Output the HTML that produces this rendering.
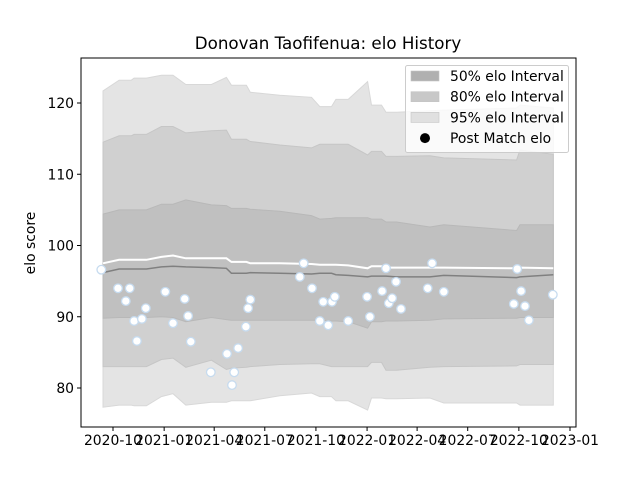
<!DOCTYPE html>
<html><head><meta charset="utf-8"><style>
body{margin:0;background:#fff}
text{font-family:"DejaVu Sans","Liberation Sans",sans-serif}
</style></head><body>
<svg id="chart" width="640" height="480" xmlns="http://www.w3.org/2000/svg">
<rect width="640" height="480" fill="#fff"/>
<text x="328" y="49" font-size="16.7" text-anchor="middle">Donovan Taofifenua: elo History</text>
<g id="plot"></g>
<text transform="translate(35,243) rotate(-90)" font-size="13.9" text-anchor="middle">elo score</text>
</svg>
<script>
const bandDates=["2020-09-13","2020-10-12","2020-11-03","2020-11-08","2020-11-30","2020-12-27","2021-01-17","2021-02-09","2021-03-27","2021-04-23","2021-05-02","2021-05-29","2021-06-05","2021-07-28","2021-09-23","2021-10-08","2021-10-29","2021-11-06","2021-11-28","2022-01-02","2022-01-09","2022-01-27","2022-02-04","2022-02-23","2022-04-24","2022-05-19","2022-09-27","2022-10-03","2022-12-02"];
const hi95=[121.7,123.2,123.2,123.5,123.5,123.9,123.9,122.6,122.6,123.6,122.5,122.5,121.5,121.1,120.8,119.5,119.5,120.5,120.5,123.0,119.7,119.7,118.7,118.7,118.9,119.0,119.3,119.7,119.3];
const hi80=[114.5,115.4,115.4,115.6,115.6,116.7,116.7,115.8,116.1,116.2,114.9,114.9,114.6,114.1,113.7,114.2,114.2,114.2,114.2,112.7,113.2,113.2,112.5,112.5,112.6,112.3,112.0,113.4,112.8];
const hi50=[104.4,105.0,105.0,105.0,105.0,105.8,105.8,106.4,105.7,105.6,105.2,105.2,105.1,104.8,104.2,103.7,103.8,103.9,103.9,103.9,103.7,103.7,103.3,103.3,102.6,102.9,102.1,102.9,102.9];
const lo50=[89.8,89.9,89.9,89.9,89.9,90.0,89.9,89.3,89.9,89.6,89.5,89.5,89.5,89.5,89.5,89.5,89.4,89.4,89.3,88.4,89.3,89.3,89.4,89.4,89.5,89.7,89.8,89.9,89.9];
const lo80=[83.0,83.0,83.0,83.0,83.0,84.0,84.2,82.9,83.9,82.6,82.8,82.9,83.0,83.3,83.4,83.4,83.0,83.0,83.0,83.0,83.6,83.6,82.5,82.5,82.9,83.0,83.1,83.3,83.3];
const lo95=[77.3,77.6,77.6,77.5,77.5,78.8,79.2,77.6,78.0,78.0,78.2,78.2,78.2,78.9,79.3,78.8,78.8,78.2,78.2,76.9,78.6,78.6,78.5,78.5,78.6,77.9,77.9,77.6,77.6];
const meanLine=[97.5,98.0,98.0,98.0,98.0,98.4,98.6,98.2,98.2,98.2,97.7,97.7,97.5,97.5,97.4,97.3,97.3,97.3,97.2,96.8,97.1,97.1,96.9,96.9,96.9,96.9,96.8,96.9,96.8];
const medianLine=[96.2,96.7,96.7,96.7,96.7,97.0,97.1,97.0,96.9,96.8,96.1,96.1,96.2,96.1,96.0,96.1,96.1,95.9,95.8,95.6,95.7,95.7,95.7,95.6,95.6,95.8,95.5,95.6,95.9];
const matchDates=["2020-09-10","2020-10-10","2020-10-31","2020-10-24","2020-11-08","2020-11-22","2020-11-29","2020-11-13","2021-01-03","2021-01-17","2021-02-07","2021-02-13","2021-02-18","2021-03-26","2021-04-24","2021-05-03","2021-05-07","2021-05-14","2021-05-28","2021-06-01","2021-06-05","2021-09-02","2021-09-09","2021-09-24","2021-10-08","2021-10-14","2021-10-23","2021-10-30","2021-11-04","2021-11-28","2022-01-01","2022-01-06","2022-01-28","2022-02-04","2022-02-09","2022-02-15","2022-02-22","2022-03-03","2022-04-20","2022-04-28","2022-05-19","2022-09-22","2022-09-28","2022-10-05","2022-10-12","2022-10-19","2022-12-01"];
const matchElo=[96.6,94.0,94.0,92.2,89.4,89.7,91.2,86.6,93.5,89.1,92.5,90.1,86.5,82.2,84.8,80.4,82.2,85.6,88.6,91.2,92.4,95.6,97.5,94.0,89.4,92.1,88.8,92.1,92.8,89.4,92.8,90.0,93.6,96.8,91.9,92.6,94.9,91.1,94.0,97.5,93.5,91.8,96.7,93.6,91.5,89.5,93.1];
const xTicks=["2020-10","2021-01","2021-04","2021-07","2021-10","2022-01","2022-04","2022-07","2022-10","2023-01"];
const yTicks=[80,90,100,110,120];

const NS="http://www.w3.org/2000/svg";
const L=81,R=576,T=58,B=427;
const d0=Date.UTC(2020,9,1), d1=Date.UTC(2023,0,1), x0=113, x1=570;
function parse(s){const p=s.split("-").map(Number);return Date.UTC(p[0],p[1]-1,p[2]||1);}
function xs(s){return x0+(parse(s)-d0)/(d1-d0)*(x1-x0);}
function ys(v){return 388-(v-80)*(285/40);}
const g=document.getElementById("plot");
function mk(tag,attrs,parent){const e=document.createElementNS(NS,tag);for(const k in attrs)e.setAttribute(k,attrs[k]);(parent||g).appendChild(e);return e;}
function band(lo,hi,fill,stroke,name){
  let d="M"+bandDates.map((t,i)=>xs(t).toFixed(1)+","+ys(hi[i]).toFixed(1)).join("L");
  for(let i=bandDates.length-1;i>=0;i--)d+="L"+xs(bandDates[i]).toFixed(1)+","+ys(lo[i]).toFixed(1);
  const p=mk("path",{d:d+"Z",fill:fill,stroke:stroke,"stroke-width":1});
  
  
}
band(lo95,hi95,"#e4e4e4","#d8d8d8","band-95");
band(lo80,hi80,"#d0d0d0","#c6c6c6","band-80");
band(lo50,hi50,"#c0c0c0","#b8b8b8","band-50");
function line(vals,color,w,name){
  const p=mk("polyline",{points:bandDates.map((t,i)=>xs(t).toFixed(1)+","+ys(vals[i]).toFixed(1)).join(" "),fill:"none",stroke:color,"stroke-width":w});
  
  
}
line(medianLine,"#808080",1.5,"median-elo-line");
line(meanLine,"#ffffff",2,"mean-elo-line");
matchDates.forEach((t,i)=>{
  const c=mk("circle",{cx:xs(t).toFixed(1),cy:ys(matchElo[i]).toFixed(1),r:4.3,fill:"#fff",stroke:"#c6dbef","stroke-width":1.3});
  
  
});
const frame=mk("rect",{x:L,y:T,width:R-L,height:B-T,fill:"none",stroke:"#000","stroke-width":1});


xTicks.forEach(t=>{
  const x=xs(t);
  mk("line",{x1:x,x2:x,y1:B,y2:B+4,stroke:"#000"});
  const tx=mk("text",{x:x,y:B+18,"font-size":13.9,"text-anchor":"middle"});
  tx.textContent=t;
  
  
});
yTicks.forEach(v=>{
  const y=ys(v);
  mk("line",{x1:L-4,x2:L,y1:y,y2:y,stroke:"#000"});
  const tx=mk("text",{x:L-7,y:y+5,"font-size":13.9,"text-anchor":"end"});
  tx.textContent=v;
  
  
});
const lg=mk("g",{});


mk("rect",{x:405.5,y:65.5,width:163,height:87,rx:2,fill:"#fff","fill-opacity":0.8,stroke:"#ccc"},lg);
const entries=[["50% elo Interval","#b0b0b0"],["80% elo Interval","#c8c8c8"],["95% elo Interval","#e0e0e0"],["Post Match elo",null]];
entries.forEach((e,i)=>{
  const y=76+i*20.7;
  if(e[1]){mk("rect",{x:411,y:y-5,width:28,height:10,fill:e[1],stroke:"#c4c4c4","stroke-width":0.6},lg);}
  else{mk("circle",{cx:425,cy:y,r:5,fill:"#000"},lg);}
  const tx=mk("text",{x:450,y:y+5,"font-size":13.9},lg);
  tx.textContent=e[0];
  
  
});
</script>
</body></html>
